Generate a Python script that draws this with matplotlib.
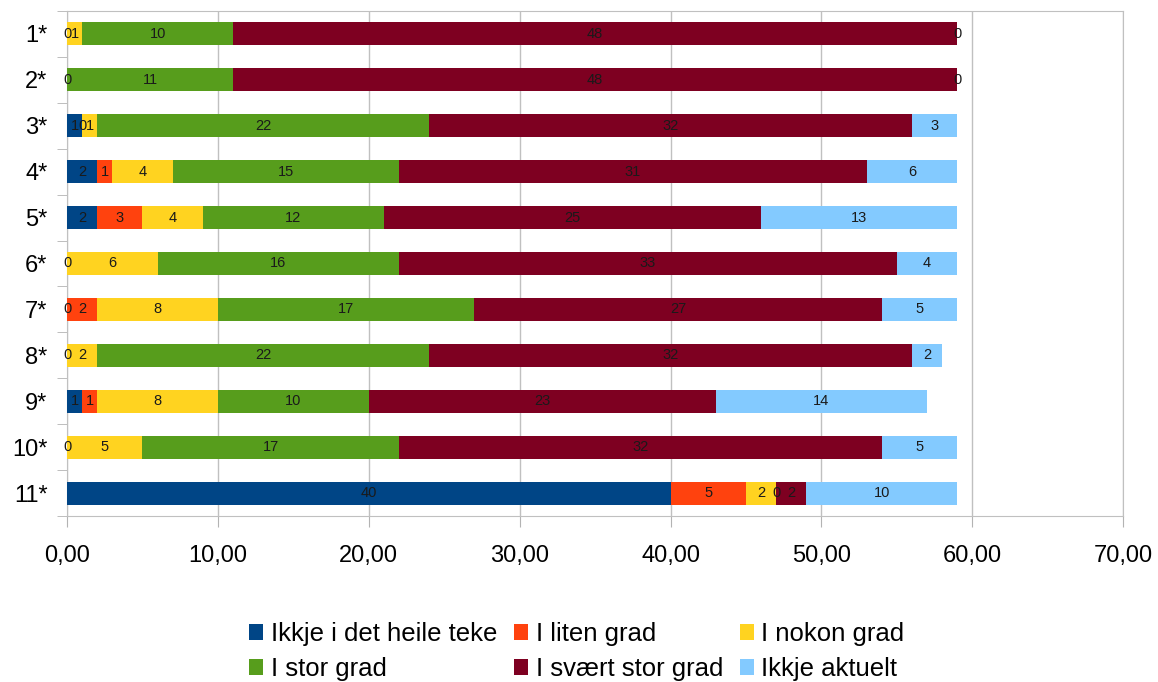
import matplotlib.pyplot as plt
import numpy as np

plt.rcParams['font.family'] = ['Liberation Sans', 'DejaVu Sans']

nan = np.nan
categories = ['1*', '2*', '3*', '4*', '5*', '6*', '7*', '8*', '9*', '10*', '11*']
series_names = ['Ikkje i det heile teke', 'I liten grad', 'I nokon grad',
                'I stor grad', 'I svært stor grad', 'Ikkje aktuelt']
ikkje = [0, 0, 1, 2, 2, 0, 0, 0, 1, 0, 40]
liten = [nan, nan, 0, 1, 3, nan, 2, nan, 1, nan, 5]
nokon = [1, nan, 1, 4, 4, 6, 8, 2, 8, 5, 2]
stor = [10, 11, 22, 15, 12, 16, 17, 22, 10, 17, 0]
svaert = [48, 48, 32, 31, 25, 33, 27, 32, 23, 32, 2]
aktuelt = [0, 0, 3, 6, 13, 4, 5, 2, 14, 5, 10]
x_ticks = [0, 10, 20, 30, 40, 50, 60, 70]
colors = ['#004586', '#ff420e', '#ffd320', '#579d1c', '#7e0021', '#83caff']

data = [ikkje, liten, nokon, stor, svaert, aktuelt]

fig = plt.figure(figsize=(11.58, 6.82), dpi=100)
ax = fig.add_axes([0.0579, 0.2434, 0.912, 0.7405])

y = np.arange(len(categories))
left = np.zeros(len(categories))
handles = []
for name, vals, col in zip(series_names, data, colors):
    vals = np.array(vals, dtype=float)
    w = np.nan_to_num(vals)
    h = ax.barh(y, w, left=left, height=0.5, color=col, label=name, zorder=3)
    handles.append(h)
    for i, v in enumerate(vals):
        if np.isnan(v):
            continue
        ax.text(left[i] + w[i] / 2, y[i], '%d' % v, ha='center', va='center',
                fontsize=10.5, color='#1a1a1a', zorder=4)
    left = left + w

ax.set_xlim(0, 70)
ax.set_ylim(len(categories) - 0.5, -0.5)
ax.set_xticks(x_ticks)
ax.set_xticklabels(['%d,00' % t for t in x_ticks], fontsize=17)
ax.set_yticks(y)
ax.set_yticklabels(categories, fontsize=17)
ax.set_yticks(np.arange(len(categories) + 1) - 0.5, minor=True)
ax.tick_params(axis='y', which='major', length=0, pad=14)
ax.tick_params(axis='y', which='minor', length=7, color='#b3b3b3')
ax.tick_params(axis='x', length=8, color='#b3b3b3', pad=13)
ax.grid(axis='x', color='#c0c0c0', linewidth=1, zorder=0)
for s in ax.spines.values():
    s.set_color('#c0c0c0')

order = [0, 3, 1, 4, 2, 5]
fig.legend([handles[i] for i in order], [series_names[i] for i in order],
           loc='upper center', bbox_to_anchor=(0.498, 0.088), ncol=3,
           frameon=False, fontsize=18.5, handlelength=0.55, handleheight=0.55,
           handletextpad=0.3, columnspacing=0.65, labelspacing=0.43,
           borderaxespad=0, borderpad=0)

fig.savefig('out.png', dpi=100)
